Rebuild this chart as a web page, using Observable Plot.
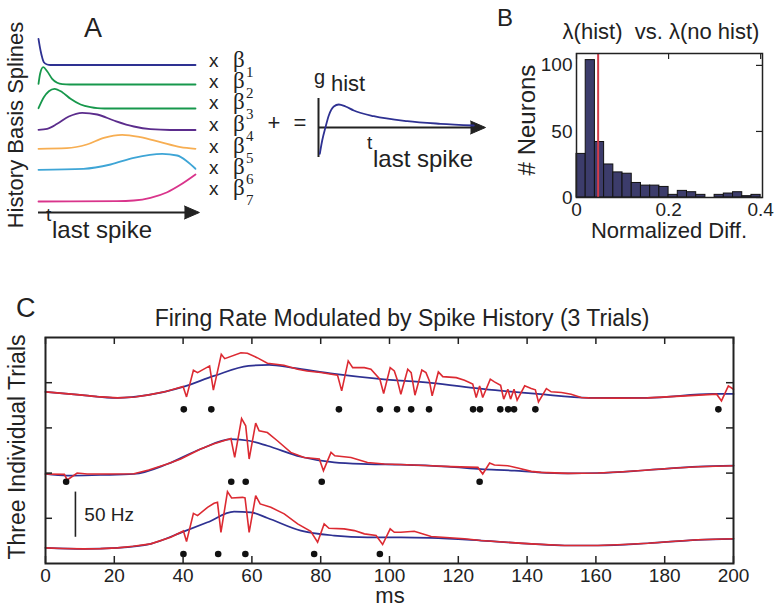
<!DOCTYPE html>
<html><head><meta charset="utf-8">
<script src="https://cdn.jsdelivr.net/npm/d3@7"></script>
<script src="https://cdn.jsdelivr.net/npm/@observablehq/plot@0.6"></script>
<style>
body{margin:0;background:#fff}
#fig{position:relative;width:774px;height:609px;overflow:hidden;font-family:Arial,"Liberation Sans",Helvetica,sans-serif;color:#222}
</style></head><body><div id="fig"></div>
<script>
// ---------------- DATA ----------------
// Panel A: history basis splines, [t (a.u.), height (a.u.)]
const spline1 = [[0,26.2],[0.013,14.5],[0.024,7.2],[0.034,2.8],[0.055,0.5],[0.076,0],[1,0]];
const spline2 = [[0,0.7],[0.011,11.3],[0.030,17.3],[0.055,13.3],[0.087,5.7],[0.119,1.7],[0.151,0.3],[0.2,0],[1,0]];
const spline3 = [[0,0.3],[0.034,11.3],[0.066,17.3],[0.102,19.7],[0.151,16.3],[0.204,9.7],[0.268,4],[0.331,1.3],[0.374,0.3],[0.42,0],[1,0]];
const spline4 = [[0,0.2],[0.055,1.2],[0.119,6.2],[0.193,13.5],[0.278,17.2],[0.374,15.5],[0.48,9.5],[0.607,3.5],[0.713,0.8],[0.84,0],[1,0]];
const spline5 = [[0,0],[0.18,0.6],[0.308,4.3],[0.416,11],[0.533,14],[0.65,11.6],[0.777,6.6],[0.904,1.6],[1,0]];
const spline6 = [[0,0],[0.287,1],[0.459,5.3],[0.607,12],[0.788,16],[0.883,14.3],[0.947,8.3],[1,1]];
const spline7 = [[0,0],[0.5,0.3],[0.607,1],[0.713,3.7],[0.82,9.3],[0.904,16.7],[1,27]];
const splineNames = ["1","2","3","4","5","6","7"];
// Combined history filter g_hist, [t (a.u.), value (a.u.)]
const gHist = [[1.3,-26.3],[3.7,-13],[7,0.3],[10.3,12],[15.3,21],[20.3,23],[27,21],[35.3,17],[55.3,11.3],[88.7,6.3],[122,3.7],[155.3,2]];

// Panel B: histogram of normalized difference
const binStarts = [0,0.02,0.04,0.06,0.08,0.10,0.12,0.14,0.16,0.18,0.20,0.22,0.24,0.26,0.28,0.30,0.32,0.34,0.36,0.38];
const neuronCounts = [33,104,42,25,19,18,11,9,9,8,2,5,4,2,0,2,3,4,1,2];
const binWidth = 0.02;
const meanDiff = 0.047;
const diffTicks = [0,0.2,0.4];
const countTicks = [0,50,100];

// Panel C: firing rates (Hz) for three trials, [ms, Hz]
const trial1Model = [[0,29.9],[10,26.5],[21,23.2],[30,26.5],[40,35.4],[49,47.5],[59,58.6],[65,59.7],[72,56.4],[84,49.7],[97,44.2],[112,39.8],[127,33.2],[143,27.6],[158,23.2],[175,23.2],[194,27.6],[200,27.6]];
const trial1Hist = [[0,29.9],[5,28.2],[10,26.5],[15,24.6],[21,23.2],[26,24.2],[30,26.5],[35,30.2],[40,35.7],[41,24.3],[43,53.8],[44.2,51.2],[47.7,58.6],[48.8,31.7],[51.1,71.5],[52.1,66.6],[56.8,73.2],[58.7,72.6],[61.5,67.7],[64.5,61.5],[69.3,59.3],[73.3,54.9],[76,53.0],[80,51.2],[84.9,48.3],[86.1,31.0],[88,64.1],[89.3,56.7],[92.7,56.7],[94.6,54.9],[97.2,43.9],[98.3,28.0],[100.2,56.7],[101.4,53.0],[102.2,43.9],[103.3,27.3],[105.3,54.9],[106.3,51.2],[107.4,26.2],[109.4,54.1],[110.6,51.2],[111.6,42.0],[112.4,25.4],[114.2,51.9],[115.5,46.7],[119.4,45.6],[121.8,42.8],[124.2,38.4],[125.2,23.6],[126.2,36.5],[127.1,23.6],[129.3,43.9],[130.5,40.9],[132.3,37.2],[133.2,21.8],[134.4,32.8],[135.2,21.8],[136.2,32.8],[137.1,20.7],[139.3,36.5],[141.2,33.5],[142.4,32.1],[143.3,18.8],[145.6,33.5],[147,29.9],[150,29.1],[152.8,27.3],[155.7,23.6],[158,23.2],[166,22.9],[175,23.2],[186,25.4],[195.1,27.3],[196.5,19.9],[198.5,36.5],[200,32.8]];
const trial1Spikes = [40.2,48.2,85.3,97.2,102.2,106.3,111.5,124.3,126.3,132.2,134.5,136.2,142.4,195.6];

const trial2Model = [[0,19.0],[6.3,17.1],[16,17.9],[25.7,19.0],[35.4,30.0],[45.1,46.6],[53.9,57.6],[59.2,55.8],[64.5,50.2],[74.2,38.1],[83.9,31.8],[93.6,30.0],[103.3,29.3],[116.9,27.1],[126.6,24.5],[136.3,22.7],[143.1,20.8],[151.9,19.7],[160.6,20.1],[175.2,23.4],[189.7,27.1],[200,28.2]];
const trial2Hist = [[0,19.0],[5.5,18.6],[6.3,12.4],[9.2,20.1],[12.1,19.0],[19,19.0],[25.7,19.2],[30,23.5],[35.4,30.0],[39.3,35.6],[45.1,46.6],[49,52.5],[53.9,58.3],[55,37.3],[57,80.4],[58.2,72.3],[59.2,35.6],[61.1,75.3],[62.1,66.8],[64.5,64.9],[67.4,55.8],[71.3,42.9],[75.2,37.3],[79.6,35.6],[80.8,22.7],[83,42.9],[84.1,39.2],[88.8,37.3],[93.6,31.8],[98.5,30.0],[105,29.2],[112,28.2],[118,27.2],[125.7,26.3],[127.1,19.0],[129.1,31.2],[130.5,28.9],[134.4,28.2],[137.3,25.6],[141.2,21.9],[144.1,20.8],[151.9,19.7],[160.6,20.1],[168,21.5],[175.2,23.4],[182,25.3],[189.7,27.1],[200,28.2]];
const trial2Spikes = [6.0,54.0,58.2,80.3,126.2];

const trial3Model = [[0,17.3],[11.2,16.2],[20.9,17.3],[30.6,21.7],[40.3,35.5],[47.1,45.6],[54.8,57.4],[59.7,56.6],[64.5,50.4],[74.2,36.4],[83.9,30.9],[93.6,29.0],[103.3,29.0],[112,28.4],[126.6,25.4],[141.2,21.7],[150.9,19.9],[160.6,19.9],[175.2,22.4],[189.7,26.2],[200,27.3]];
const trial3Hist = [[0,17.3],[5,16.6],[11.2,16.2],[16,16.5],[20.9,17.3],[25.5,19.0],[30.6,21.7],[36.4,29.0],[40.1,36.0],[41,24.3],[43,55.5],[44.2,53.0],[47.1,62.1],[49,66.6],[50,67.7],[51,34.5],[52.9,79.5],[54.1,72.5],[57.3,73.2],[58,72.5],[59.2,34.5],[61.1,75.1],[62.4,65.9],[65.5,62.1],[69.4,54.9],[73.3,43.8],[77.1,35.7],[79.1,23.5],[81,43.8],[82.4,39.0],[86.8,38.3],[89.8,36.4],[92.7,32.8],[96.1,30.9],[98,21.0],[100.2,38.3],[101.4,34.5],[103.3,34.5],[107.2,35.7],[112.1,29.8],[121.8,27.3],[126.6,25.4],[134,23.5],[141.2,21.7],[150.9,19.9],[160.6,19.9],[168,21.0],[175.2,22.4],[182,24.3],[189.7,26.2],[200,27.3]];
const trial3Spikes = [40.1,50.2,58.1,78.1,97.2];

const msTicks = [0,20,40,60,80,100,120,140,160,180,200];
const rateTicks = [50,100,150,200];
const scaleBarHz = 50;

// ---------------- LAYOUT / STYLE ----------------
const FONT = 'Arial, "Liberation Sans", Helvetica, sans-serif';
const SERIF = '"Liberation Serif", "Times New Roman", serif';
const INK = "#222";
const NAVY = "#2e3192";
const RED = "#dc2a32";
const splineColors = [NAVY, "#17984c", "#17984c", "#5b2c8c", "#f7ae52", "#3ea5d6", "#d9348b"];
const splineOffsets = [147.5, 128, 104, 82.5, 63.7, 42.7, 11];
const trialOffsets = [160, 80, 0];
const spikeLevel = 10.5;
const fig = document.getElementById("fig");
function place(el, left, top) {
  el.style.position = "absolute"; el.style.left = left + "px"; el.style.top = top + "px";
  fig.appendChild(el);
}
const baseStyle = {fontFamily: FONT, fontSize: "19px", color: INK, background: "transparent", overflow: "visible"};
function arrowHead(x, y) {
  return Plot.vector([0], {x: () => x, y: () => y, rotate: 90, shape: "spike", length: 15, r: 6.5, anchor: "end", fill: INK, stroke: INK, strokeWidth: 1});
}

// ---------- Panel A: basis splines ----------
{
  const W = 185, H = 200, ml = 8, mr = 20, mt = 10, mb = 8;
  const splines = [spline1, spline2, spline3, spline4, spline5, spline6, spline7];
  const arrowEnd = 1.025;
  const p = Plot.plot({
    width: W, height: H, marginLeft: ml, marginRight: mr, marginTop: mt, marginBottom: mb,
    x: {domain: [0, 1], axis: null}, y: {domain: [0, 182], axis: null},
    style: baseStyle,
    marks: [
      ...splines.map((s, i) => Plot.line(s, {x: d => d[0], y: d => d[1] + splineOffsets[i], stroke: splineColors[i], strokeWidth: 1.8, curve: "monotone-x"})),
      Plot.ruleY([0], {x1: 0, x2: arrowEnd - 0.05, stroke: INK, strokeWidth: 2}),
      arrowHead(arrowEnd, 0)
    ]
  });
  place(p, 30, 20);
}
// ---------- Panel A: g_hist ----------
{
  const p = Plot.plot({
    width: 200, height: 100, marginLeft: 18, marginRight: 15, marginTop: 18, marginBottom: 23,
    x: {domain: [0, 167], axis: null}, y: {domain: [-30, 29], axis: null},
    style: baseStyle,
    marks: [
      Plot.ruleX([0], {y1: -30, y2: 29, stroke: INK, strokeWidth: 2}),
      Plot.ruleY([0], {x1: 0, x2: 155, stroke: INK, strokeWidth: 2}),
      arrowHead(167, 0),
      Plot.line(gHist, {x: d => d[0], y: d => d[1], stroke: NAVY, strokeWidth: 1.8, curve: "monotone-x"})
    ]
  });
  place(p, 300, 80);
}
// ---------- Panel B: histogram ----------
{
  const bars = binStarts.map((x, i) => ({x1: x, x2: x + binWidth, n: neuronCounts[i]}));
  const xMax = 0.404;
  const W = 284, H = 200, ml = 86, mr = 12, mt = 13, mb = 43;
  const fw = W - ml - mr, fh = H - mt - mb, tk = 6;
  const kx = xMax / fw * tk, ky = 109 / fh * tk;
  const p = Plot.plot({
    width: W, height: H, marginLeft: ml, marginRight: mr, marginTop: mt, marginBottom: mb,
    x: {domain: [0, xMax]}, y: {domain: [0, 109]},
    style: baseStyle,
    marks: [
      Plot.rectY(bars, {x1: "x1", x2: "x2", y: "n", fill: "#3c3c6b", stroke: "#111", strokeWidth: 1, inset: 0}),
      Plot.ruleX([meanDiff], {stroke: "#d23c4a", strokeWidth: 2}),
      Plot.ruleX(diffTicks, {x: d => d, y1: 109 - ky, y2: 109, stroke: INK, strokeWidth: 1.2}),
      Plot.ruleY(countTicks, {y: d => d, x1: xMax - kx, x2: xMax, stroke: INK, strokeWidth: 1.2}),
      Plot.frame({stroke: INK, strokeWidth: 1.5}),
      Plot.axisX(diffTicks, {tickSize: 0, tickPadding: 5, tickFormat: d => String(d), label: null}),
      Plot.axisY(countTicks, {tickSize: 0, tickPadding: 4, label: null})
    ]
  });
  place(p, 490, 40);
}
// ---------- Panel C: firing rates ----------
{
  const trials = [
    {model: trial1Model, hist: trial1Hist, spikes: trial1Spikes},
    {model: trial2Model, hist: trial2Hist, spikes: trial2Spikes},
    {model: trial3Model, hist: trial3Hist, spikes: trial3Spikes}
  ];
  const modelRows = trials.flatMap((t, i) => t.model.map(([ms, hz]) => ({trial: i, ms, y: hz + trialOffsets[i]})));
  const histRows = trials.flatMap((t, i) => t.hist.map(([ms, hz]) => ({trial: i, ms, y: hz + trialOffsets[i]})));
  const spikeRows = trials.flatMap((t, i) => t.spikes.map(ms => ({trial: i, ms, y: spikeLevel + trialOffsets[i]})));
  const W = 774, H = 309, ml = 45, mr = 41, mt = 37, mb = 46;
  const fw = W - ml - mr, fh = H - mt - mb, tk = 7;
  const kx = 200 / fw * tk, ky = 250 / fh * tk;
  const bar = {ms: 8.7, base: 29};
  const p = Plot.plot({
    width: W, height: H, marginLeft: ml, marginRight: mr, marginTop: mt, marginBottom: mb,
    x: {domain: [0, 200]}, y: {domain: [0, 250], axis: null},
    style: baseStyle,
    marks: [
      Plot.line(modelRows, {x: "ms", y: "y", z: "trial", stroke: NAVY, strokeWidth: 1.7, curve: "monotone-x"}),
      Plot.line(histRows, {x: "ms", y: "y", z: "trial", stroke: RED, strokeWidth: 1.6, strokeLinejoin: "miter", strokeMiterlimit: 3}),
      Plot.dot(spikeRows, {x: "ms", y: "y", r: 3.3, fill: "#111", stroke: null}),
      Plot.ruleX(msTicks, {x: d => d, y1: 0, y2: ky, stroke: INK, strokeWidth: 1.5}),
      Plot.ruleX(msTicks, {x: d => d, y1: 250 - ky, y2: 250, stroke: INK, strokeWidth: 1.5}),
      Plot.ruleY(rateTicks, {y: d => d, x1: 0, x2: kx, stroke: INK, strokeWidth: 1.5}),
      Plot.ruleY(rateTicks, {y: d => d, x1: 200 - kx, x2: 200, stroke: INK, strokeWidth: 1.5}),
      Plot.frame({stroke: INK, strokeWidth: 2}),
      Plot.ruleX([bar], {x: "ms", y1: "base", y2: d => d.base + scaleBarHz, stroke: INK, strokeWidth: 1.6}),
      Plot.text([bar], {x: d => d.ms + 2.6, y: d => d.base + scaleBarHz / 2, text: () => scaleBarHz + " Hz", textAnchor: "start", fontSize: 19, fill: INK}),
      Plot.axisX(msTicks, {tickSize: 0, tickPadding: 5, label: null})
    ]
  });
  place(p, 0, 300);
}

// ---------------- TEXT ANNOTATIONS ----------------
const ann = d3.select(fig).append("svg")
  .attr("width", 774).attr("height", 609)
  .style("position", "absolute").style("left", "0px").style("top", "0px")
  .style("pointer-events", "none").attr("font-family", FONT).attr("fill", INK);
function txt(s, x, y, size, o = {}) {
  const t = ann.append("text").attr("x", x).attr("y", y).attr("font-size", size).text(s);
  if (o.anchor) t.attr("text-anchor", o.anchor);
  if (o.rotate) t.attr("transform", `rotate(${o.rotate},${x},${y})`);
  if (o.family) t.attr("font-family", o.family);
  return t;
}
// Panel A
txt("A", 93, 37, 27, {anchor: "middle"});
txt("History Basis Splines", 23, 125, 22, {anchor: "middle", rotate: -90});
const rowBase = [67, 87.5, 108.5, 131, 153, 174, 195];
splineNames.forEach((n, i) => {
  txt("x", 209, rowBase[i], 19);
  txt("β", 233, rowBase[i], 23, {family: SERIF});
  txt(n, 246, rowBase[i] + 10, 15, {family: SERIF});
});
txt("t", 46, 221, 19);
txt("last spike", 52, 238, 24);
txt("+", 274, 130, 22, {anchor: "middle"});
txt("=", 300, 130, 22, {anchor: "middle"});
txt("g", 314, 84, 20);
txt("hist", 331, 91, 22);
txt("t", 367, 149, 19);
txt("last spike", 373, 166.5, 24);
// Panel B
txt("B", 497, 26, 24);
txt("λ(hist)  vs. λ(no hist)", 661, 39, 22, {anchor: "middle"}).style("white-space", "pre");
txt("# Neurons", 535, 120, 24, {anchor: "middle", rotate: -90});
txt("Normalized Diff.", 669, 238, 22, {anchor: "middle"});
// Panel C
txt("C", 16, 317, 27);
txt("Firing Rate Modulated by Spike History (3 Trials)", 402, 326, 23, {anchor: "middle"});
txt("Three Individual Trials", 25, 447, 23, {anchor: "middle", rotate: -90});
txt("ms", 390, 603, 22, {anchor: "middle"});
</script></body></html>
